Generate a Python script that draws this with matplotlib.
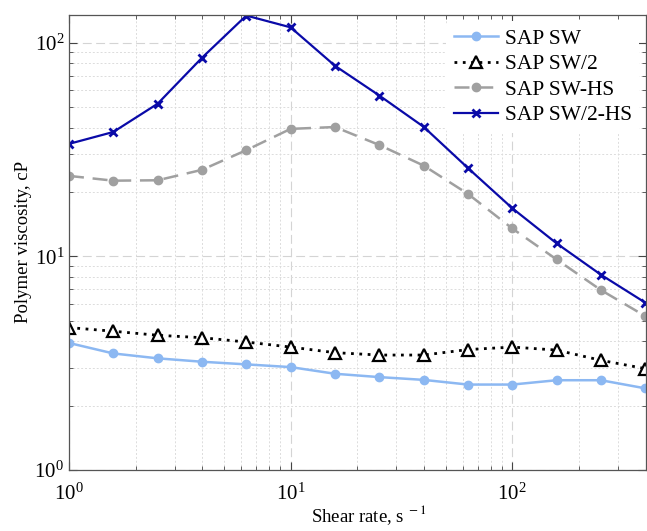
import matplotlib

matplotlib.use("Agg")
import matplotlib.pyplot as plt
from matplotlib.ticker import LogLocator, NullFormatter

plt.rcParams["font.family"] = ["Liberation Serif", "DejaVu Serif"]
plt.rcParams["mathtext.fontset"] = "stix"

# shear rate, s^-1
shear_rate = [1.0, 1.585, 2.512, 3.981, 6.31, 10.0, 15.85, 25.12, 39.81, 63.1, 100.0, 158.5, 251.2, 398.1]

sap_sw = [3.93, 3.51, 3.33, 3.21, 3.12, 3.03, 2.82, 2.72, 2.64, 2.51, 2.51, 2.63, 2.63, 2.41]
sap_sw2 = [4.64, 4.46, 4.27, 4.16, 3.97, 3.76, 3.54, 3.45, 3.45, 3.66, 3.76, 3.64, 3.26, 2.98]
sap_sw_hs = [23.8, 22.6, 22.7, 25.4, 31.4, 39.5, 40.3, 33.2, 26.6, 19.6, 13.5, 9.67, 6.95, 5.25]
sap_sw2_hs = [33.6, 38.2, 51.8, 85.0, 134.0, 118.0, 78.0, 56.6, 40.4, 25.9, 16.8, 11.5, 8.2, 6.07]

labels = ["SAP SW", "SAP SW/2", "SAP SW-HS", "SAP SW/2-HS"]

fig = plt.figure(figsize=(6.47, 5.31), dpi=100)
ax = fig.add_axes([0.1066, 0.115, 0.8914, 0.857])

ax.plot(shear_rate, sap_sw, color="#8cb8f2", lw=1.8, marker="o", ms=6, label=labels[0])
ax.plot(shear_rate, sap_sw2, color="black", lw=2.0, ls=(0, (1, 2)), marker="^", ms=8,
        mfc="white", mec="black", mew=1.6, label=labels[1])
ax.plot(shear_rate, sap_sw_hs, color="#a0a0a0", lw=1.8, ls=(0, (6, 3.5)), marker="o", ms=6,
        label=labels[2])
ax.plot(shear_rate, sap_sw2_hs, color="#0a0aa8", lw=1.6, marker="x", ms=6, mew=2.0,
        label=labels[3])

ax.set_xscale("log")
ax.set_yscale("log")
ax.set_xlim(1, 400)
ax.set_ylim(1, 135)

ax.xaxis.set_minor_locator(LogLocator(base=10, subs=range(2, 10)))
ax.yaxis.set_minor_locator(LogLocator(base=10, subs=range(2, 10)))
ax.xaxis.set_minor_formatter(NullFormatter())
ax.yaxis.set_minor_formatter(NullFormatter())

ax.grid(which="major", color="#d4d4d4", ls=(0, (8, 4)), lw=0.8)
ax.grid(which="minor", color="#dcdcdc", ls=(0, (2, 2)), lw=0.7)
ax.set_axisbelow(True)

ax.tick_params(which="both", direction="in", top=True, right=True, colors="#444444",
               labelcolor="black", labelsize=15)
ax.tick_params(which="major", length=6)
ax.tick_params(which="minor", length=3)
ax.tick_params(axis="x", which="major", pad=10)
for s in ax.spines.values():
    s.set_color("#555555")
    s.set_linewidth(0.9)

ax.set_xlabel("Shear rate, s$^{\\ -1}$", fontsize=13.5)
ax.xaxis.set_label_coords(0.52, -0.074)
ax.set_ylabel("Polymer viscosity, cP", fontsize=13.5, labelpad=2)

leg = ax.legend(loc="upper right", fontsize=15.5, frameon=True, framealpha=1.0,
                edgecolor="none", handlelength=2.05, handletextpad=0.3,
                labelspacing=0.25, borderpad=0.35, borderaxespad=0.3)

fig.savefig("out.png", dpi=100)
